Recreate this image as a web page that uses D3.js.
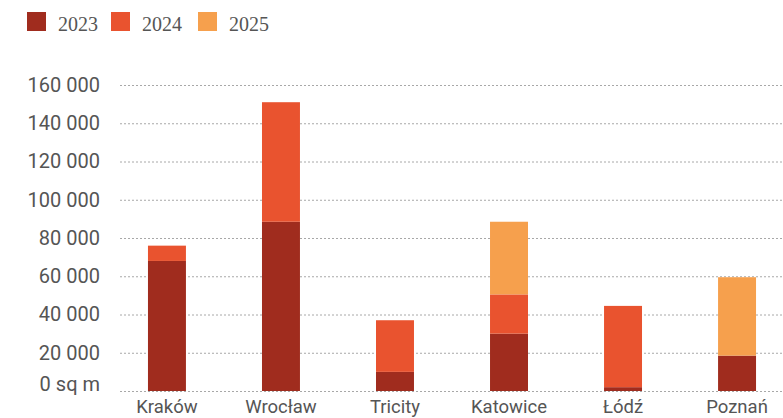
<!DOCTYPE html>
<html>
<head>
<meta charset="utf-8">
<script src="https://cdn.jsdelivr.net/npm/d3@7"></script>
<style>
  body { margin: 0; background: #fff; }
  svg text { fill: #555; }
</style>
</head>
<body>
<div id="graphic" width="783" height="418"></div>
<script>
// data (sq m)
let cities = ["Kraków", "Wrocław", "Tricity", "Katowice", "Łódź", "Poznań"];
let years = ["2023", "2024", "2025"];
let values2023 = [68000, 88500, 10000, 30000, 2000, 18500];
let values2024 = [8000, 62500, 27000, 20500, 42500, 0];
let values2025 = [0, 0, 0, 38000, 0, 41000];
let yTicks = [0, 20000, 40000, 60000, 80000, 100000, 120000, 140000, 160000];
let colors = ["#a02c1e", "#e9532f", "#f6a04d"];

let graphic = document.querySelector('#graphic');
let width = +graphic.getAttribute('width');
let height = +graphic.getAttribute('height');

let svg = d3.select("#graphic")
  .append("svg")
    .attr("width", width)
    .attr("height", height);

// build rows for the stack
let data = cities.map((c, i) => ({
  city: c, "2023": values2023[i], "2024": values2024[i], "2025": values2025[i]
}));
let series = d3.stack().keys(years)(data);

let x = d3.scaleBand()
  .domain(cities)
  .range([110, 794])
  .paddingInner(0.667)
  .paddingOuter(0.333);

let y = d3.scaleLinear()
  .domain([0, 160000])
  .range([391, 85]);

// dotted grid lines
svg.append("g")
  .selectAll("line")
  .data(yTicks)
  .enter()
  .append("line")
    .attr("x1", 120)
    .attr("x2", width)
    .attr("y1", d => y(d) + 0.5)
    .attr("y2", d => y(d) + 0.5)
    .attr("stroke", "#a8a8a8")
    .attr("stroke-width", 1)
    .attr("stroke-dasharray", "2,2");

// y axis labels
let fmt = d => d === 0 ? "0 sq m" : d3.format(",")(d).replace(/,/g, " ");
let yAxis = svg.append("g")
  .attr("transform", "translate(100,0)")
  .call(d3.axisLeft(y).tickValues(yTicks).tickFormat(fmt).tickSize(0).tickPadding(0));
yAxis.select(".domain").remove();
yAxis.selectAll("text")
  .style("font", "20px Roboto")
  .attr("fill", "#555")
  .attr("dy", d => d === 0 ? "-0.05em" : "0.32em");

// bars
svg.append("g")
  .selectAll("g")
  .data(series)
  .enter()
  .append("g")
    .attr("fill", (d, i) => colors[i])
  .selectAll("rect")
  .data(d => d)
  .enter()
  .append("rect")
    .attr("x", d => x(d.data.city))
    .attr("y", d => y(d[1]))
    .attr("width", x.bandwidth())
    .attr("height", d => y(d[0]) - y(d[1]));

// x axis labels
let xAxis = svg.append("g")
  .attr("transform", "translate(0,413)")
  .call(d3.axisBottom(x).tickSize(0).tickPadding(0));
xAxis.select(".domain").remove();
xAxis.selectAll("text")
  .style("font", "18.5px Roboto")
  .attr("fill", "#555")
  .attr("y", 0)
  .attr("dy", 0);

// legend
let legendX = [27, 111, 198];
let legend = svg.append("g")
  .selectAll("g")
  .data(years)
  .enter()
  .append("g")
    .attr("transform", (d, i) => "translate(" + legendX[i] + ",12)");
legend.append("rect")
  .attr("width", 19)
  .attr("height", 19)
  .attr("fill", (d, i) => colors[i]);
legend.append("text")
  .attr("x", 31)
  .attr("y", 19)
  .style("font", "20px 'Liberation Serif'")
  .attr("fill", "#555")
  .text(d => d);
</script>
</body>
</html>
